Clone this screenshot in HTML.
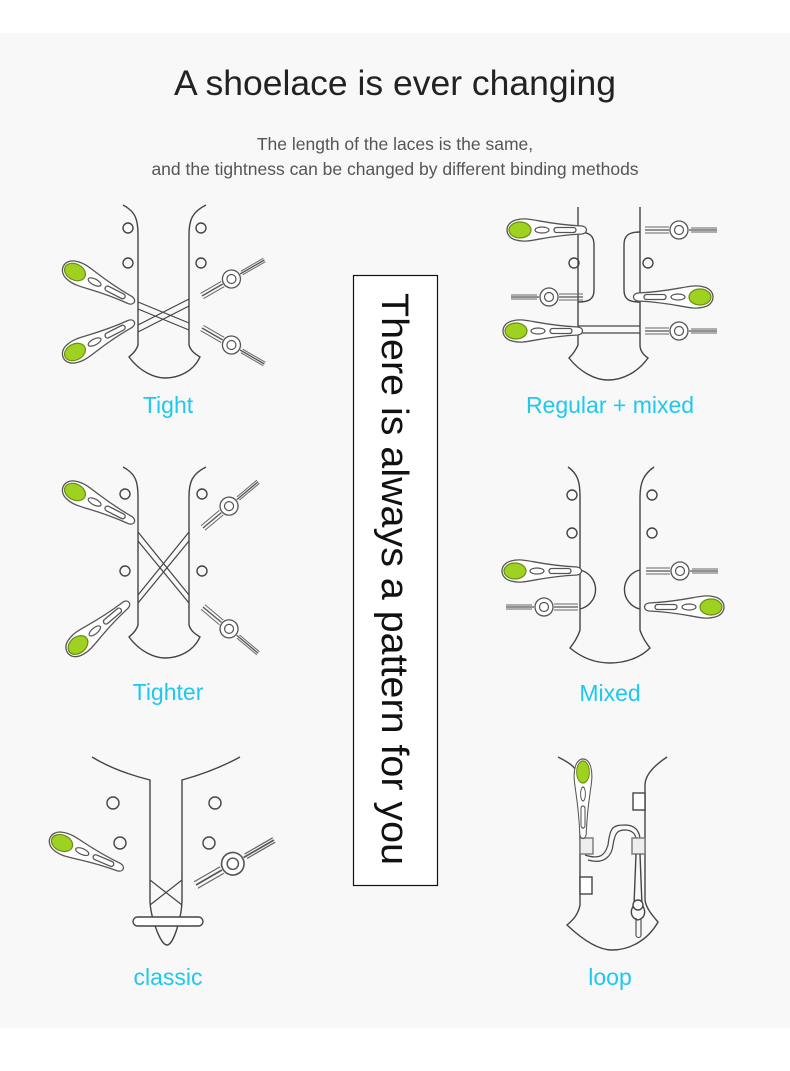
<!DOCTYPE html>
<html><head><meta charset="utf-8"><style>
html,body{margin:0;padding:0;background:#fff;}
body{width:790px;height:1071px;position:relative;overflow:hidden;font-family:"Liberation Sans",sans-serif;}
.panel{position:absolute;left:0;top:33px;width:790px;height:995px;background:#f8f8f8;}
.t{position:absolute;left:0;width:790px;text-align:center;}
</style></head><body>
<div class="panel"></div>
<div class="t" style="top:63px;font-size:35.5px;color:#222;">A shoelace is ever changing</div>
<div class="t" style="top:132px;font-size:17.5px;color:#555;line-height:25px;">The length of the laces is the same,<br>and the tightness can be changed by different binding methods</div>
<svg width="790" height="1071" style="position:absolute;left:0;top:0" xmlns="http://www.w3.org/2000/svg">
<defs>
<g id="ag">
<path d="M-4,-10 C10,-14 20,-6 62,-4 C68,-3 68,3 62,4 C20,6 10,14 -4,10 C-16,7 -16,-7 -4,-10Z" fill="#fff" stroke="#555" stroke-width="1.3"/>
<ellipse cx="0" cy="0" rx="11" ry="8" fill="#9fd120" stroke="#6a8f10" stroke-width="1.2"/>
<ellipse cx="22" cy="0" rx="7" ry="3" fill="none" stroke="#555" stroke-width="1.2"/>
<rect x="34" y="-2.5" width="22" height="5" rx="2.5" fill="none" stroke="#555" stroke-width="1.3"/>
</g>
<g id="pl">
<path d="M0,0 L24,0 M44,0 L72,0" stroke="#555" stroke-width="1.3" fill="none"/>
<path d="M0,-3 L24,-3 M0,3 L24,3 M46,-2 L72,-2 M46,2 L72,2" stroke="#666" stroke-width="1" fill="none"/>
<circle cx="34" cy="0" r="9" fill="#fff" stroke="#555" stroke-width="1.3"/>
<circle cx="34" cy="0" r="4.5" fill="none" stroke="#555" stroke-width="1.2"/>
</g>
</defs>
<g fill="none" stroke="#444" stroke-width="1.4">
<path d="M123,205 C136,212 138,220 138,235 L138,345 C136,352 131,355 129,357 C140,372 155,378 165,378 C178,378 193,372 200,357 C197,355 191,352 189,345 L189,235 C189,220 192,212 206,205"/>
<circle cx="128" cy="228" r="5"/><circle cx="201" cy="228" r="5"/><circle cx="128" cy="263" r="5"/><circle cx="201" cy="263" r="5"/>
<path d="M138,302 L189,323 M138,309 L189,330 M138,325 L189,299 M138,332 L189,306" stroke-width="1.2"/>
<path d="M123,467 C136,474 138,482 138,497 L138,625 C136,632 131,635 129,637 C140,652 155,658 165,658 C178,658 193,652 200,637 C197,635 191,632 189,625 L189,497 C189,482 192,474 206,467"/>
<circle cx="125" cy="494" r="5"/><circle cx="202" cy="494" r="5"/><circle cx="125" cy="571" r="5"/><circle cx="202" cy="571" r="5"/>
<path d="M138,532 L189,595 M138,541 L189,603 M138,595 L189,532 M138,603 L189,541" stroke-width="1.2"/>
<path d="M578,207 L578,345 C575,352 571,356 569,358 C580,372 595,380 608,380 C623,380 638,372 648,358 C645,356 640,352 640,345 L640,207"/>
<circle cx="574" cy="263" r="5"/><circle cx="648" cy="263" r="5"/>
<path d="M578,232 C590,232 594,236 594,245 L594,290 C594,300 588,302 578,302 M640,232 C628,232 624,236 624,245 L624,290 C624,300 630,302 640,302"/>
<path d="M578,326 L640,326 M578,333 L640,333" stroke-width="1.2"/>
<path d="M568,467 C578,474 580,482 580,497 L580,630 C577,640 572,645 570,648 C582,658 596,663 610,663 C625,663 640,658 650,648 C648,645 643,640 640,630 L640,497 C640,482 644,474 654,467"/>
<circle cx="572" cy="495" r="5"/><circle cx="652" cy="495" r="5"/><circle cx="572" cy="533" r="5"/><circle cx="652" cy="533" r="5"/>
<path d="M580,570 A20,20 0 0 1 580,609 M640,570 A20,20 0 0 0 640,609"/>
<path d="M92,757 C110,768 130,775 150,780 L150,900 C150,915 160,945 167,945 C174,945 182,915 182,900 L182,780 C200,775 220,768 240,757"/>
<circle cx="113" cy="803" r="6"/><circle cx="120" cy="843" r="6"/><circle cx="215" cy="803" r="6"/><circle cx="209" cy="843" r="6"/>
<path d="M150,880 L182,905 M150,905 L182,880" stroke-width="1.2"/>
<rect x="133" y="917" width="70" height="9" rx="4.5" fill="#fff"/>
<path d="M558,757 C570,763 578,768 580,780 L580,905 C578,915 573,920 567,925 C585,942 600,950 612,950 C630,950 648,940 658,922 C652,915 646,908 645,900 L645,785 C645,775 655,765 667,757"/>
<rect x="633" y="793" width="12" height="17" fill="#fff"/><rect x="580" y="877" width="12" height="17" fill="#fff"/>
<path d="M585,855 C600,860 605,855 608,845 C610,828 612,825 625,825 C638,825 640,835 640,840 M588,860 C605,865 612,855 613,845 C615,832 618,830 625,830 C633,830 636,835 636,840" stroke-width="1.2"/>
<rect x="580" y="838" width="13" height="16" fill="#eee" stroke="#777"/><rect x="632" y="838" width="13" height="16" fill="#eee" stroke="#777"/>
<path d="M636,854 L634,905 C630,910 630,918 638,920 C646,918 646,910 642,905 L640,854"/>
<circle cx="638" cy="905" r="5" fill="#fff"/>
<path d="M636,918 L636,935 A2,2 0 0 0 641,935 L641,918" stroke-width="1.1"/>
</g>
<use href="#ag" transform="translate(75,272) rotate(27)"/>
<use href="#ag" transform="translate(75,352) rotate(-27)"/>
<use href="#pl" transform="translate(202,296) rotate(-30)"/>
<use href="#pl" transform="translate(202,328) rotate(30)"/>
<use href="#ag" transform="translate(75,492) rotate(27)"/>
<use href="#ag" transform="translate(78,645) rotate(-40)"/>
<use href="#pl" transform="translate(203,528) rotate(-40)"/>
<use href="#pl" transform="translate(203,607) rotate(40)"/>
<use href="#ag" transform="translate(520,230)"/>
<use href="#ag" transform="translate(516,331)"/>
<use href="#ag" transform="translate(700,297) rotate(180)"/>
<use href="#pl" transform="translate(645,230)"/>
<use href="#pl" transform="translate(645,331)"/>
<use href="#pl" transform="translate(583,297) rotate(180)"/>
<use href="#ag" transform="translate(515,571)"/>
<use href="#ag" transform="translate(711,607) rotate(180)"/>
<use href="#pl" transform="translate(646,571)"/>
<use href="#pl" transform="translate(578,607) rotate(180)"/>
<use href="#ag" transform="translate(62,843) rotate(23)"/>
<use href="#pl" transform="translate(196,885) rotate(-30) scale(1.25)"/>
<use href="#ag" transform="translate(583,772) rotate(90) scale(1,0.8)"/>
<g font-family="Liberation Sans, sans-serif" font-size="23" fill="#1ec8f0" text-anchor="middle">
<text x="168" y="413">Tight</text>
<text x="610" y="413">Regular + mixed</text>
<text x="168" y="700">Tighter</text>
<text x="610" y="701">Mixed</text>
<text x="168" y="985">classic</text>
<text x="610" y="985">loop</text>
</g>
<rect x="353.5" y="275.5" width="84" height="610" fill="#fff" stroke="#111" stroke-width="1.2"/>
<text transform="translate(382,293) rotate(90)" font-family="Liberation Sans, sans-serif" font-size="38" fill="#111" textLength="572" lengthAdjust="spacingAndGlyphs">There is always a pattern for you</text>
</svg>
</body></html>
